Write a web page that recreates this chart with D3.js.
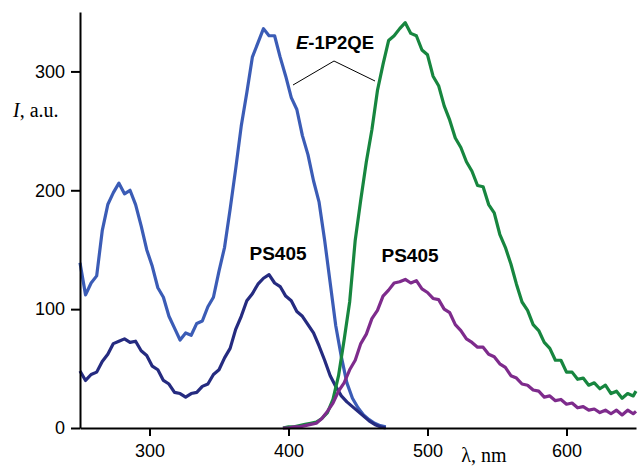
<!DOCTYPE html>
<meta charset="utf-8">
<style>
  body { margin: 0; background: #fff; }
  svg { display: block; }
</style>
<body>
<script src="https://d3js.org/d3.v7.min.js"></script>
<script>

// wavelength grids, nm
var excNm = [250,254,258,262,266,270,274,278,282,286,290,294,298,302,306,310,314,318,322,326,
             330,334,338,342,346,350,354,358,362,366,370,374,378,382,386,390,394,398,402,406,
             410,414,418,422,426,430,434,438,442,446,450,454,458,462,466,470];
var emNm  = [396,400,404,408,412,416,420,424,428,432,436,440,444,448,452,456,460,464,468,472,
             476,480,484,488,492,496,500,504,508,512,516,520,524,528,532,536,540,544,548,552,
             556,560,564,568,572,576,580,584,588,592,596,600,604,608,612,616,620,624,628,632,
             636,640,644,648,650];

// E-1P2QE excitation (blue)
var eExc = [139,112,122,128,166,188,198,206,197,200,188,170,150,136,118,110,94,84,74,80,
            78,88,90,102,110,132,152,184,218,254,282,312,324,336,330,330,312,296,278,268,
            246,230,208,190,158,122,86,60,38,25,17,11,7,4,2,1];
// PS405 excitation (dark blue)
var pExc = [48,40,45,47,56,62,71,73,75,72,73,65,61,52,49,40,37,30,29,26,
            29,30,35,37,45,49,59,67,83,94,107,113,121,126,129,122,119,111,107,98,
            94,87,80,69,57,44,35,27,22,18,14,10,6,3,1,0];
// E-1P2QE emission (green)
var eEm = [0,1,1,2,3,4,5,8,13,24,44,74,106,158,192,224,251,284,306,326,
           330,336,341,332,330,318,314,296,288,271,259,244,236,224,216,204,203,188,181,163,
           152,138,121,106,99,87,82,72,67,57,57,47,47,41,42,36,38,33,36,29,
           31,25,29,27,31];
// PS405 emission (purple)
var pEm = [0,0,1,1,2,3,4,8,14,21,31,38,49,57,71,79,92,99,111,116,
           122,123,125,122,124,117,114,109,108,100,97,87,82,75,72,68,68,62,60,54,
           51,44,42,37,36,32,31,26,27,23,24,20,21,17,18,15,16,13,15,12,
           15,11,15,12,14];

var xMajor = [300, 400, 500, 600];
var xMinor = [260, 280, 320, 340, 360, 380, 420, 440, 460, 480, 520, 540, 560, 580, 620, 640];
var yMajor = [0, 100, 200, 300];
var yMinor = [50, 150, 250];

var W = 638, H = 466;
var svg = d3.select("body").append("svg")
    .attr("width", W)
    .attr("height", H);

var x = d3.scaleLinear().domain([250, 650]).range([80, 636]);
var y = d3.scaleLinear().domain([0, 350]).range([428, 12]);

var sans = "'Liberation Sans', Arial, Helvetica, sans-serif";
var serif = "'Liberation Serif', 'Times New Roman', Times, serif";

var line = d3.line()
    .x(function (d) { return x(d[0]); })
    .y(function (d) { return y(d[1]); });

var series = [
    { nm: excNm, v: eExc, color: "#3b5cb6" },
    { nm: excNm, v: pExc, color: "#252b80" },
    { nm: emNm,  v: eEm,  color: "#17863f" },
    { nm: emNm,  v: pEm,  color: "#7e2b8c" }
];

series.forEach(function (s) {
    svg.append("path")
        .datum(s.nm.map(function (n, i) { return [n, s.v[i]]; }))
        .attr("fill", "none")
        .attr("stroke", s.color)
        .attr("stroke-width", 3.2)
        .attr("stroke-linejoin", "round")
        .attr("d", line);
});

// axes
var gx = svg.append("g").attr("transform", "translate(0," + y(0) + ")");
gx.call(d3.axisBottom(x).tickValues(xMinor).tickSize(5).tickSizeOuter(0).tickFormat(""));
gx.call(d3.axisBottom(x).tickValues(xMajor).tickSize(8).tickSizeOuter(0).tickPadding(8));

var gy = svg.append("g").attr("transform", "translate(" + x(250) + ",0)");
gy.call(d3.axisLeft(y).tickValues(yMinor).tickSize(6).tickSizeOuter(0).tickFormat(""));
gy.call(d3.axisLeft(y).tickValues(yMajor).tickSize(9).tickSizeOuter(0).tickPadding(6));

svg.selectAll(".domain, .tick line")
    .attr("stroke", "#000")
    .attr("stroke-width", 2);
svg.selectAll(".tick text")
    .attr("fill", "#000")
    .style("font-family", sans)
    .style("font-size", "18px");

// axis titles
var yt = svg.append("text")
    .attr("x", 13).attr("y", 117)
    .style("font-family", serif)
    .style("font-size", "20px");
yt.append("tspan").style("font-style", "italic").text("I");
yt.append("tspan").text(", a.u.");

svg.append("text")
    .attr("x", 484).attr("y", 462)
    .attr("text-anchor", "middle")
    .style("font-family", serif)
    .style("font-size", "20px")
    .text("λ, nm");

// labels
var lab = svg.append("text")
    .attr("x", 335).attr("y", 49)
    .attr("text-anchor", "middle")
    .style("font-family", sans)
    .style("font-weight", "bold")
    .style("font-size", "18.5px");
lab.append("tspan").style("font-style", "italic").text("E");
lab.append("tspan").text("-1P2QE");

svg.append("path")
    .attr("d", d3.line()([[293, 85], [334, 61], [375, 81]]))
    .attr("fill", "none")
    .attr("stroke", "#000")
    .attr("stroke-width", 1);

[[278, 260], [410, 262]].forEach(function (p) {
    svg.append("text")
        .attr("x", p[0]).attr("y", p[1])
        .attr("text-anchor", "middle")
        .style("font-family", sans)
        .style("font-weight", "bold")
        .style("font-size", "19px")
        .text("PS405");
});

</script>
</body>
